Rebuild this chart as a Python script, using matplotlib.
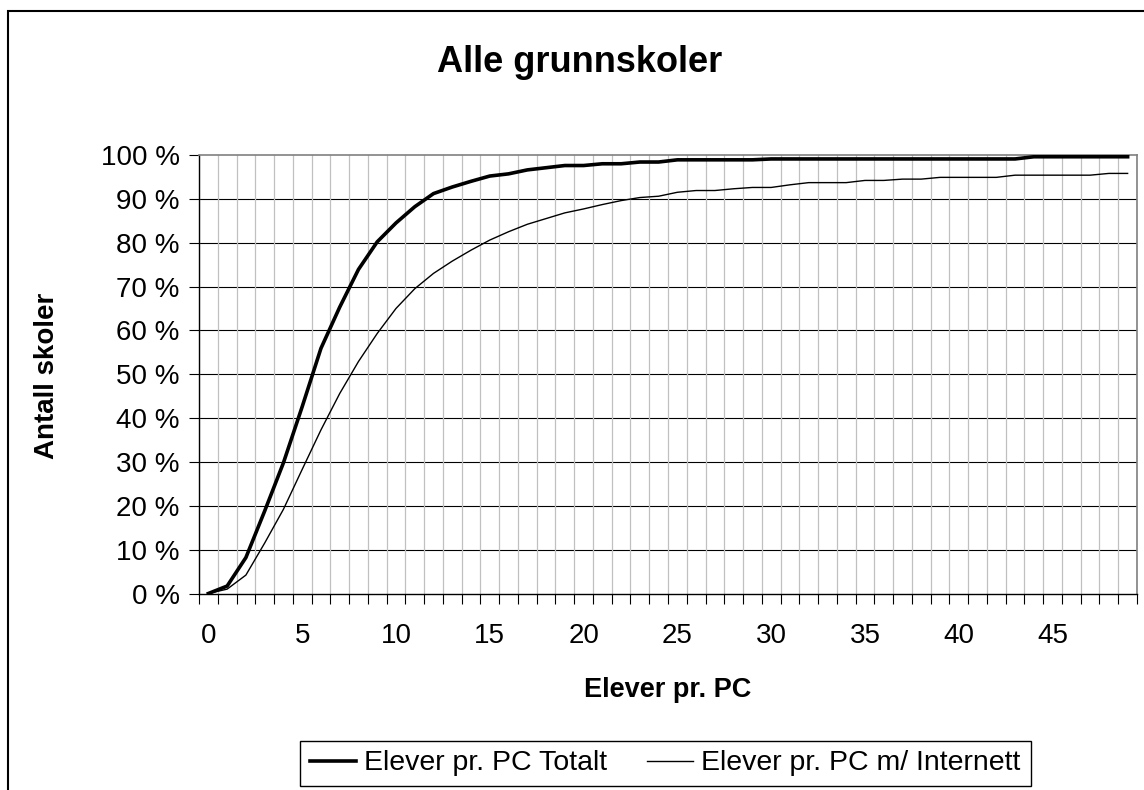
import matplotlib
matplotlib.use("Agg")
import matplotlib.pyplot as plt
from matplotlib.patches import Rectangle
from matplotlib.ticker import FixedLocator, FuncFormatter
import numpy as np

plt.rcParams['font.family'] = ['Liberation Sans', 'DejaVu Sans']

categories = list(range(50))
totalt = [0, 1.7, 8.2, 18.8, 29.8, 42.6, 55.9, 65.3, 73.9, 80.2,
          84.5, 88.2, 91.2, 92.7, 94.0, 95.2, 95.7, 96.6, 97.1, 97.6,
          97.6, 98.0, 98.0, 98.4, 98.4, 98.9, 98.9, 98.9, 98.9, 98.9,
          99.1, 99.1, 99.1, 99.1, 99.1, 99.1, 99.1, 99.1, 99.1, 99.1,
          99.1, 99.1, 99.1, 99.1, 99.6, 99.6, 99.6, 99.6, 99.6, 99.6]
internett = [0, 1.0, 4.2, 11.5, 19.2, 28.3, 37.3, 45.6, 52.9, 59.3,
             65.0, 69.5, 73.0, 75.8, 78.3, 80.6, 82.5, 84.2, 85.5, 86.8,
             87.7, 88.7, 89.6, 90.3, 90.6, 91.5, 91.9, 91.9, 92.3, 92.6,
             92.6, 93.2, 93.7, 93.7, 93.7, 94.2, 94.2, 94.5, 94.5, 94.9,
             94.9, 94.9, 94.9, 95.4, 95.4, 95.4, 95.4, 95.4, 95.8, 95.8]
series_names = ["Elever pr. PC Totalt", "Elever pr. PC m/ Internett"]
title = "Alle grunnskoler"
xlabel = "Elever pr. PC"
ylabel = "Antall skoler"

W, H = 1144, 790
fig = plt.figure(figsize=(W / 100, H / 100), dpi=100)
L, R, T, B = 199, 1137, 155, 593.5
ax = fig.add_axes([L / W, 1 - B / H, (R - L) / W, (B - T) / H])

x = np.array(categories)
ax.plot(x, np.array(totalt) / 100, color='black', lw=2.6, label=series_names[0], zorder=4)
ax.plot(x, np.array(internett) / 100, color='black', lw=1.0, label=series_names[1], zorder=4)

ax.set_xlim(-0.5, len(categories) - 0.5)
ax.set_ylim(0, 1)

# x ticks: labels every 5 at category centers, tick marks & grid at boundaries
ax.xaxis.set_major_locator(FixedLocator([c for c in categories if c % 5 == 0]))
ax.xaxis.set_minor_locator(FixedLocator(np.arange(-0.5, len(categories), 1.0)))
ax.tick_params(axis='x', which='major', length=0, pad=21, labelsize=20)
ax.tick_params(axis='x', which='minor', length=7, width=0.8, color='black', direction='out')
ax.grid(True, axis='x', which='minor', color='#c0c0c0', lw=0.9, zorder=0)

ax.set_yticks(np.arange(0, 1.01, 0.1))
ax.yaxis.set_major_formatter(FuncFormatter(lambda v, p: f"{int(round(v * 100))} %"))
ax.tick_params(axis='y', which='major', length=7, width=0.8, pad=7, labelsize=20)
for yv in np.arange(0.1, 0.95, 0.1):
    ax.axhline(yv, color='black', lw=0.8, zorder=1)

for s in ['top', 'right']:
    ax.spines[s].set_color('#808080')
    ax.spines[s].set_linewidth(1.2)
for s in ['left', 'bottom']:
    ax.spines[s].set_color('black')
    ax.spines[s].set_linewidth(1.0)

fig.text(580 / W, 1 - 62 / H, title, ha='center', va='center', fontsize=26, fontweight='bold')
fig.text(668 / W, 1 - 690 / H, xlabel, ha='center', va='center', fontsize=19.5, fontweight='bold')
fig.text(47 / W, 1 - 376 / H, ylabel, ha='center', va='center', rotation=90, fontsize=20, fontweight='bold')

leg = fig.legend(loc='center', bbox_to_anchor=(665.5 / W, 1 - 763.5 / H), ncol=2, fontsize=20.5,
                 frameon=True, fancybox=False, edgecolor='black', framealpha=1,
                 handlelength=1.6, handletextpad=0.3, columnspacing=1.4, borderpad=0.35)
leg.get_frame().set_linewidth(1.0)

# outer chart frame (left and top edges visible)
fig.patches.append(Rectangle((8 / W, -0.1), 2.0, 1.1 - 11 / H, transform=fig.transFigure,
                             fill=False, edgecolor='black', lw=1.5))

fig.savefig("out.png", dpi=100)
